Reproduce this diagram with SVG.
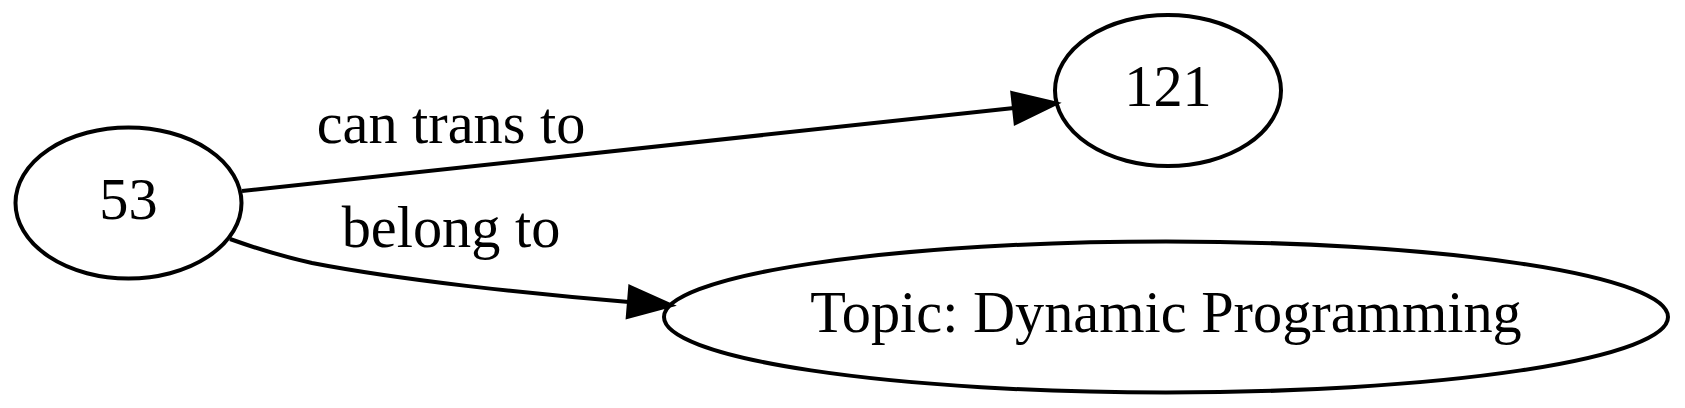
<svg xmlns="http://www.w3.org/2000/svg" width="1685" height="408" viewBox="0 0 1685 408">
<style>
.node ellipse{fill:none;stroke:#000;stroke-width:4}
.node text,.elabel{font-family:"Liberation Serif","Times New Roman",serif;font-size:58.3px;fill:#000;text-anchor:middle}
.edge{fill:none;stroke:#000;stroke-width:4}
</style>
<defs>
<marker id="arr" markerUnits="userSpaceOnUse" markerWidth="52" markerHeight="42" refX="0" refY="16" orient="auto" viewBox="-3 0 52 32">
<path d="M0,1 L42,16 L0,31 Z" fill="#000" stroke="#000" stroke-width="4"/>
</marker>
</defs>
<rect width="1685" height="408" fill="#fff"/>
<g id="edges">
<path class="edge" d="M242,191 L1014,108" marker-end="url(#arr)"/>
<text class="elabel" x="451" y="143">can trans to</text>
<path class="edge" d="M230,239 C258,249 285,257 312,263 C400,280 530,294 629,302" marker-end="url(#arr)"/>
<text class="elabel" x="451" y="247">belong to</text>
</g>
<g id="node-53" class="node">
<ellipse cx="128.5" cy="203" rx="113" ry="75.5"/>
<text x="128.5" y="219">53</text>
</g>
<g id="node-121" class="node">
<ellipse cx="1168" cy="90.5" rx="113" ry="75.5"/>
<text x="1168" y="106">121</text>
</g>
<g id="node-topic" class="node">
<ellipse cx="1166" cy="317" rx="502" ry="75.5"/>
<text x="1166" y="332">Topic: Dynamic Programming</text>
</g>
</svg>
